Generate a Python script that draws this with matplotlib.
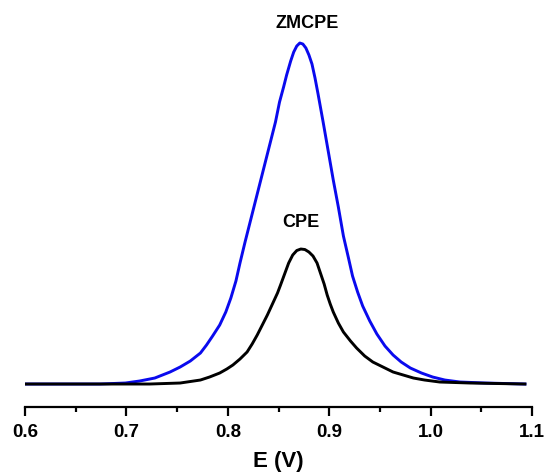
import matplotlib
matplotlib.use('Agg')
import matplotlib.pyplot as plt
from matplotlib.ticker import MultipleLocator

# potential (V) and current (arb. units)
e_zmcpe = [0.601, 0.674, 0.699, 0.713, 0.728, 0.743, 0.753, 0.763, 0.773, 0.779,
           0.785, 0.792, 0.798, 0.803, 0.808, 0.812, 0.817, 0.822, 0.827, 0.832,
           0.837, 0.842, 0.847, 0.851, 0.855, 0.858, 0.862, 0.865, 0.868, 0.871,
           0.874, 0.877, 0.880, 0.883, 0.886, 0.889, 0.894, 0.899, 0.904, 0.909,
           0.914, 0.919, 0.923, 0.928, 0.933, 0.940, 0.947, 0.955, 0.963, 0.971,
           0.980, 0.991, 1.002, 1.014, 1.029, 1.054, 1.093]
i_zmcpe = [0.0, 0.0, 0.1, 0.3, 0.6, 1.2, 1.7, 2.3, 3.1, 3.9,
           4.8, 5.9, 7.2, 8.6, 10.3, 12.1, 14.2, 16.2, 18.2, 20.2,
           22.2, 24.2, 26.2, 28.2, 29.7, 30.9, 32.3, 33.2, 33.8, 34.1,
           34.0, 33.6, 32.9, 32.0, 30.6, 29.0, 26.2, 23.3, 20.4, 17.7,
           14.8, 12.6, 10.8, 9.2, 7.8, 6.3, 5.0, 3.8, 2.9, 2.2,
           1.6, 1.1, 0.7, 0.4, 0.2, 0.1, 0.0]

e_cpe = [0.601, 0.723, 0.753, 0.773, 0.782, 0.792, 0.799, 0.805, 0.812, 0.819,
         0.824, 0.829, 0.834, 0.839, 0.844, 0.849, 0.852, 0.856, 0.860, 0.864,
         0.868, 0.872, 0.876, 0.880, 0.884, 0.888, 0.891, 0.895, 0.898, 0.901,
         0.904, 0.909, 0.914, 0.921, 0.927, 0.935, 0.943, 0.953, 0.963, 0.973,
         0.983, 0.994, 1.009, 1.039, 1.093]
i_cpe = [0.0, 0.0, 0.1, 0.4, 0.7, 1.1, 1.5, 1.9, 2.5, 3.2,
         4.0, 4.9, 5.9, 6.9, 8.0, 9.1, 9.9, 11.0, 12.1, 12.9,
         13.35, 13.5, 13.45, 13.2, 12.8, 12.1, 11.2, 10.0, 8.9, 8.0,
         7.2, 6.1, 5.2, 4.3, 3.6, 2.8, 2.2, 1.7, 1.2, 0.9,
         0.6, 0.4, 0.2, 0.1, 0.0]

xticks = [0.6, 0.7, 0.8, 0.9, 1.0, 1.1]

plt.rcParams['font.family'] = ['Liberation Sans', 'DejaVu Sans']
plt.rcParams['font.weight'] = 'bold'

fig = plt.figure(figsize=(5.46, 4.73), dpi=100)
ax = fig.add_axes([0.0458, 0.1395, 0.9286, 0.8393])

ax.plot(e_zmcpe, i_zmcpe, color='#0a0aee', lw=2.1, solid_joinstyle='round')
ax.plot(e_cpe, i_cpe, color='black', lw=2.1, solid_joinstyle='round')

ax.text(0.8785, 36.1, 'ZMCPE', ha='center', va='center', fontsize=13, fontweight='bold')
ax.text(0.8725, 16.2, 'CPE', ha='center', va='center', fontsize=13, fontweight='bold')

ax.set_xlim(0.6, 1.1)
ax.set_ylim(-2.3, 37.4)
for s in ['left', 'right', 'top']:
    ax.spines[s].set_visible(False)
ax.spines['bottom'].set_linewidth(1.6)
ax.set_yticks([])
ax.set_xticks(xticks)
ax.set_xticklabels(['%.1f' % t for t in xticks])
ax.xaxis.set_minor_locator(MultipleLocator(0.05))
ax.tick_params(axis='x', which='major', direction='out', length=6.5, width=1.6,
               labelsize=13.5, pad=6)
ax.tick_params(axis='x', which='minor', direction='out', length=3.5, width=1.6)
ax.set_xlabel('E (V)', fontsize=16, fontweight='bold', labelpad=7)

fig.savefig('out.png', dpi=100)
